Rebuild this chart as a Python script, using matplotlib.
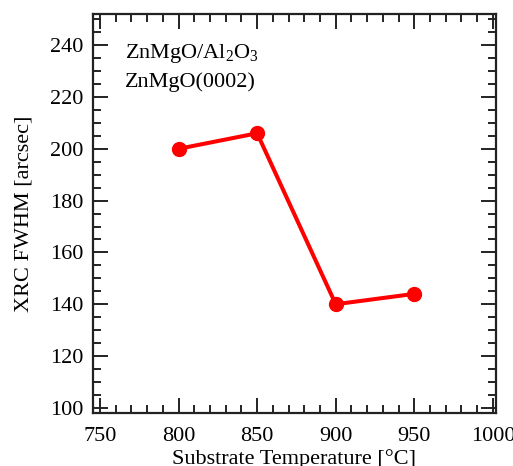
import matplotlib
matplotlib.use("Agg")
import matplotlib.pyplot as plt
from matplotlib.ticker import MultipleLocator

temperature = [800, 850, 900, 950]
fwhm = [200, 206, 140, 144]

plt.rcParams['font.family'] = ['Liberation Serif', 'DejaVu Serif']
plt.rcParams['mathtext.fontset'] = 'custom'
plt.rcParams['mathtext.rm'] = 'Liberation Serif'
plt.rcParams['mathtext.it'] = 'Liberation Serif:italic'

fig = plt.figure(figsize=(5.13, 4.66), dpi=100)
ax = fig.add_axes([0.181, 0.1137, 0.786, 0.856])

ax.plot(temperature, fwhm, color='#ff0000', lw=2.9, marker='o', markersize=10)

ax.set_xlim(745.5, 1002)
ax.set_ylim(98, 252)
ax.xaxis.set_major_locator(MultipleLocator(50))
ax.xaxis.set_minor_locator(MultipleLocator(10))
ax.yaxis.set_major_locator(MultipleLocator(20))
ax.yaxis.set_minor_locator(MultipleLocator(5))
ax.tick_params(which='both', direction='in', top=True, right=True, width=1.4, colors='#222222', labelcolor='black', labelsize=16)
ax.tick_params(which='major', length=11)
ax.tick_params(which='minor', length=5.5)
ax.tick_params(axis='x', which='major', pad=10)
ax.tick_params(axis='y', which='major', pad=7)
for s in ax.spines.values():
    s.set_linewidth(1.6)
    s.set_color('#222222')

ax.set_xlabel('Substrate Temperature [°C]', fontsize=16, labelpad=2)
ax.set_ylabel('XRC FWHM [arcsec]', fontsize=16, labelpad=12)

ax.text(0.079, 0.902, r'ZnMgO/Al$_2$O$_3$', transform=ax.transAxes, fontsize=16, va='center')
ax.text(0.079, 0.83, 'ZnMgO(0002)', transform=ax.transAxes, fontsize=16, va='center')

fig.savefig('out.png', dpi=100)
